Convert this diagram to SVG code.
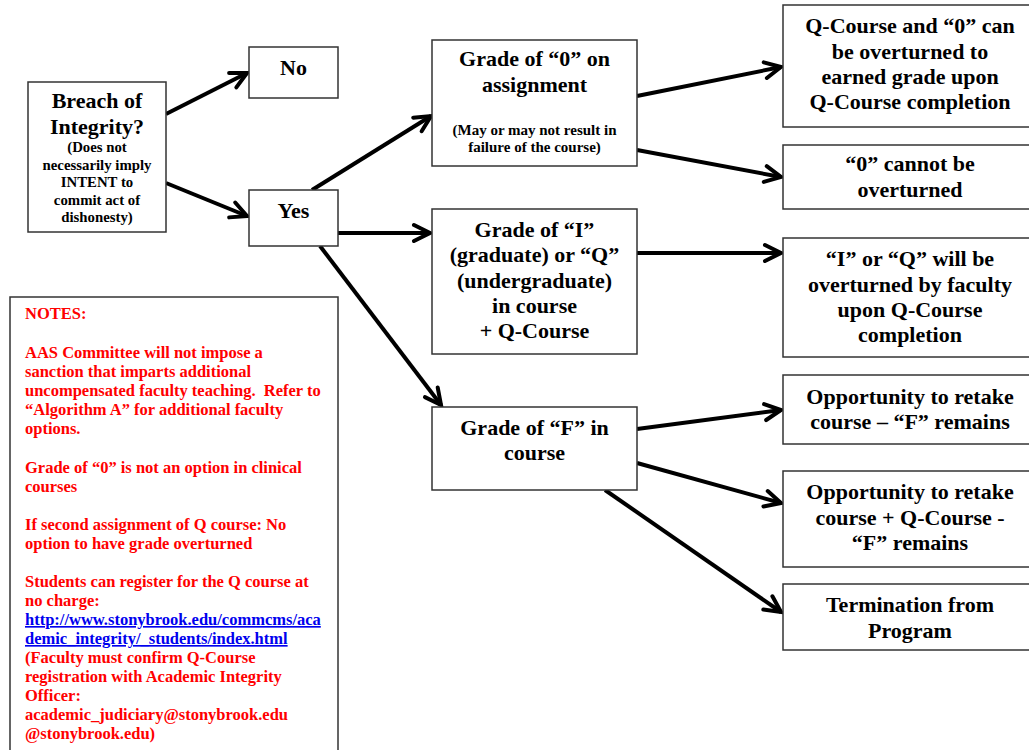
<svg xmlns="http://www.w3.org/2000/svg" width="1029" height="750" viewBox="0 0 1029 750">
<defs>
<style>
.box{fill:#fff;stroke:#333;stroke-width:1.5}
.t{font-family:"Liberation Serif","Times New Roman",serif;font-weight:bold;fill:#000;text-anchor:middle}
.b{font-size:22px}
.s{font-size:14.8px}
.m{font-size:15px}
.n{font-family:"Liberation Serif","Times New Roman",serif;font-weight:bold;font-size:16.5px;fill:#f00}
.lnk{fill:#0000ee;text-decoration:underline}
.c{stroke:#000;stroke-width:4;fill:none;marker-end:url(#ah)}
</style>
<marker id="ah" markerUnits="userSpaceOnUse" markerWidth="22" markerHeight="22" viewBox="0 0 22 22" refX="19" refY="11" orient="auto">
<path d="M3,3 L19,11 L3,19" fill="none" stroke="#000" stroke-width="4" stroke-linejoin="miter" stroke-linecap="round"/>
</marker>
</defs>
<rect width="1029" height="750" fill="#fff"/>

<g id="connectors">
<line class="c" x1="166" y1="114" x2="247" y2="73"/>
<line class="c" x1="166" y1="183" x2="247" y2="216"/>
<line class="c" x1="312" y1="190" x2="431" y2="116"/>
<line class="c" x1="338" y1="233" x2="430" y2="233"/>
<line class="c" x1="320" y1="246" x2="441" y2="405"/>
<line class="c" x1="637" y1="96" x2="781" y2="67"/>
<line class="c" x1="637" y1="150" x2="781" y2="177"/>
<line class="c" x1="637" y1="253" x2="781" y2="253"/>
<line class="c" x1="637" y1="429" x2="781" y2="410"/>
<line class="c" x1="637" y1="463" x2="781" y2="503"/>
<line class="c" x1="605" y1="490" x2="781" y2="612"/>
</g>

<g id="breach">
<rect class="box" x="28" y="82" width="138" height="150"/>
<text class="t b" x="97" y="108">Breach of</text>
<text class="t b" x="97" y="134">Integrity?</text>
<text class="t s" x="97" y="152">(Does not</text>
<text class="t s" x="97" y="169.5">necessarily imply</text>
<text class="t s" x="97" y="187">INTENT to</text>
<text class="t s" x="97" y="204.5">commit act of</text>
<text class="t s" x="97" y="222">dishonesty)</text>
</g>

<g id="no">
<rect class="box" x="249" y="47" width="89" height="51"/>
<text class="t b" x="293.5" y="75">No</text>
</g>

<g id="yes">
<rect class="box" x="249" y="190" width="89" height="56"/>
<text class="t b" x="293.5" y="218">Yes</text>
</g>

<g id="grade0">
<rect class="box" x="432" y="40" width="205" height="126"/>
<text class="t b" x="534.5" y="66">Grade of “0” on</text>
<text class="t b" x="534.5" y="92">assignment</text>
<text class="t m" x="534.5" y="135">(May or may not result in</text>
<text class="t m" x="534.5" y="152">failure of the course)</text>
</g>

<g id="gradeI">
<rect class="box" x="432" y="209" width="205" height="145"/>
<text class="t b" x="534.5" y="237">Grade of “I”</text>
<text class="t b" x="534.5" y="262">(graduate) or “Q”</text>
<text class="t b" x="534.5" y="288">(undergraduate)</text>
<text class="t b" x="534.5" y="313">in course</text>
<text class="t b" x="534.5" y="338">+ Q-Course</text>
</g>

<g id="gradeF">
<rect class="box" x="432" y="407" width="205" height="83"/>
<text class="t b" x="534.5" y="435">Grade of “F” in</text>
<text class="t b" x="534.5" y="460">course</text>
</g>

<g id="qcourse">
<rect class="box" x="783" y="5" width="250" height="122"/>
<text class="t b" x="910" y="33">Q-Course and “0” can</text>
<text class="t b" x="910" y="59">be overturned to</text>
<text class="t b" x="910" y="84">earned grade upon</text>
<text class="t b" x="910" y="109">Q-Course completion</text>
</g>

<g id="cannot">
<rect class="box" x="783" y="145" width="250" height="64"/>
<text class="t b" x="910" y="171">“0” cannot be</text>
<text class="t b" x="910" y="197">overturned</text>
</g>

<g id="iorq">
<rect class="box" x="783" y="238" width="250" height="119"/>
<text class="t b" x="910" y="266">“I” or “Q” will be</text>
<text class="t b" x="910" y="292">overturned by faculty</text>
<text class="t b" x="910" y="317">upon Q-Course</text>
<text class="t b" x="910" y="342">completion</text>
</g>

<g id="retake">
<rect class="box" x="783" y="375" width="250" height="69"/>
<text class="t b" x="910" y="404">Opportunity to retake</text>
<text class="t b" x="910" y="429">course – “F” remains</text>
</g>

<g id="retakeq">
<rect class="box" x="783" y="471" width="250" height="96"/>
<text class="t b" x="910" y="499">Opportunity to retake</text>
<text class="t b" x="910" y="525">course + Q-Course -</text>
<text class="t b" x="910" y="550">“F” remains</text>
</g>

<g id="termination">
<rect class="box" x="783" y="584" width="250" height="66"/>
<text class="t b" x="910" y="612">Termination from</text>
<text class="t b" x="910" y="638">Program</text>
</g>

<g id="notes">
<rect class="box" x="10" y="297" width="328" height="470"/>
<text class="n" x="25" y="319">NOTES:</text>
<text class="n" x="25" y="358">AAS Committee will not impose a</text>
<text class="n" x="25" y="377">sanction that imparts additional</text>
<text class="n" x="25" y="396" xml:space="preserve">uncompensated faculty teaching.  Refer to</text>
<text class="n" x="25" y="415">“Algorithm A” for additional faculty</text>
<text class="n" x="25" y="434">options.</text>
<text class="n" x="25" y="473">Grade of “0” is not an option in clinical</text>
<text class="n" x="25" y="492">courses</text>
<text class="n" x="25" y="530">If second assignment of Q course: No</text>
<text class="n" x="25" y="549">option to have grade overturned</text>
<text class="n" x="25" y="587">Students can register for the Q course at</text>
<text class="n" x="25" y="606">no charge:</text>
<text class="n lnk" x="25" y="625">http://www.stonybrook.edu/commcms/aca</text>
<text class="n lnk" x="25" y="644">demic_integrity/_students/index.html</text>
<text class="n" x="25" y="663">(Faculty must confirm Q-Course</text>
<text class="n" x="25" y="682">registration with Academic Integrity</text>
<text class="n" x="25" y="701">Officer:</text>
<text class="n" x="25" y="720">academic_judiciary@stonybrook.edu</text>
<text class="n" x="25" y="739">@stonybrook.edu)</text>
</g>
</svg>
